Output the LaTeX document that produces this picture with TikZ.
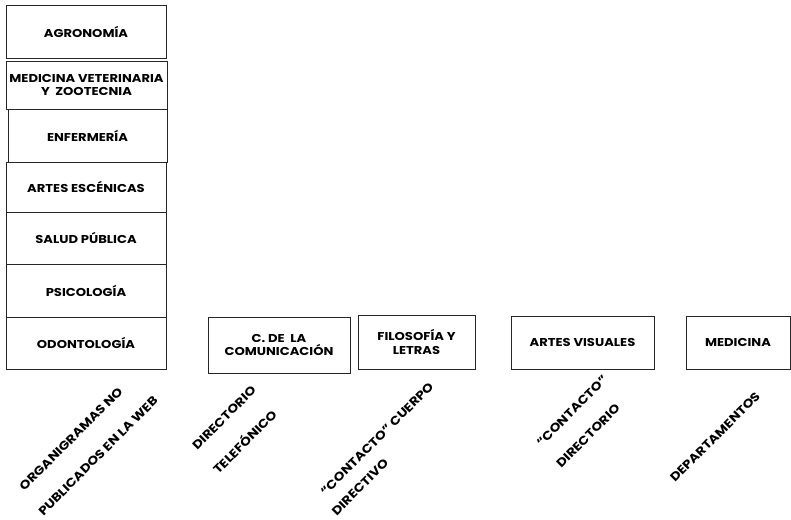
\documentclass[tikz,border=0pt]{standalone}
\usepackage{fontspec}
\setmainfont{Poppins}[FakeStretch=1.15]
\begin{document}
\begin{tikzpicture}[x=1pt,y=-1pt,
  box/.style={draw=black!85, line width=0.8pt, inner sep=0pt, align=center,
    font=\bfseries\fontsize{11.4}{13.5}\selectfont},
  lbl/.style={rotate=45, inner sep=0pt, anchor=center,
    font=\bfseries\fontsize{12}{14}\selectfont}]
\useasboundingbox (0,0) rectangle (791,519);
% left column
\node[box, minimum width=160pt, minimum height=53pt] (agro) at (86,31.5) {AGRONOMÍA};
\node[box, minimum width=161pt, minimum height=48pt] (medvet) at (86.5,85) {MEDICINA VETERINARIA\\Y\ \ ZOOTECNIA};
\node[box, minimum width=159pt, minimum height=53pt] (enf) at (87.5,135.5) {ENFERMERÍA};
\node[box, minimum width=160pt, minimum height=50pt] (esc) at (86,187) {ARTES ESCÉNICAS};
\node[box, minimum width=160pt, minimum height=52pt] (salud) at (86,238) {SALUD PÚBLICA};
\node[box, minimum width=160pt, minimum height=53pt] (psico) at (86,290.5) {PSICOLOGÍA};
\node[box, minimum width=160pt, minimum height=52pt] (odon) at (86,343) {ODONTOLOGÍA};
% bottom row
\node[box, minimum width=142pt, minimum height=56pt] (comun) at (279,345) {C. DE\ \ LA\\COMUNICACIÓN};
\node[box, minimum width=117pt, minimum height=54pt] (filo) at (416.5,342) {FILOSOFÍA Y\\LETRAS};
\node[box, minimum width=143pt, minimum height=53pt] (visu) at (582.5,342.5) {ARTES VISUALES};
\node[box, minimum width=104pt, minimum height=53pt] (medi) at (738,342.5) {MEDICINA};
% rotated labels
\node[lbl] (l1a) at (71,439) {ORGANIGRAMAS NO};
\node[lbl] (l1b) at (98,456) {PUBLICADOS EN LA WEB};
\node[lbl] (l2a) at (224,418) {DIRECTORIO};
\node[lbl] (l2b) at (244,441) {TELEFÓNICO};
\node[lbl] (l3a) at (377,439) {“CONTACTO” CUERPO};
\node[lbl] (l3b) at (360,487) {DIRECTIVO};
\node[lbl] (l4a) at (572,411) {“CONTACTO”};
\node[lbl] (l4b) at (588,436) {DIRECTORIO};
\node[lbl] (l5) at (715,437) {DEPARTAMENTOS};
\end{tikzpicture}
\end{document}
